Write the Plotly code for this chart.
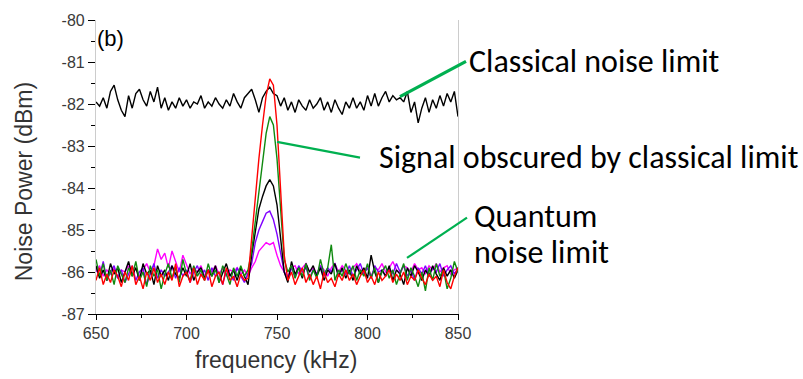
import numpy as np
import plotly.graph_objects as go

# ---------------- data ----------------
freq_start_khz = 650
freq_step_khz = 2

classical_limit = [
    -81.95, -82.05, -81.85, -82.10, -81.70, -81.55, -81.90, -82.15, -82.30, -81.80,
    -82.10, -81.75, -81.65, -81.90, -82.05, -81.70, -81.95, -81.60, -82.10, -81.85,
    -82.15, -81.95, -82.10, -81.85, -82.05, -81.90, -82.10, -81.95, -82.00, -81.80,
    -82.10, -81.95, -82.05, -81.85, -82.00, -82.10, -81.90, -82.05, -81.75, -81.95,
    -82.10, -81.85, -81.75, -81.65, -81.90, -82.20, -81.85, -81.70, -81.60, -81.75,
    -81.80, -82.05, -81.85, -82.15, -81.95, -82.20, -81.90, -82.05, -82.15, -81.90,
    -82.10, -82.00, -81.85, -82.15, -81.95, -82.20, -81.90, -82.10, -82.25, -81.95,
    -82.10, -81.85, -82.10, -81.95, -82.15, -81.80, -82.05, -81.75, -82.05, -81.85,
    -81.70, -81.95, -81.80, -81.90, -81.85, -81.95, -81.70, -82.20, -81.95, -82.45,
    -82.10, -81.85, -82.20, -81.90, -82.10, -81.80, -82.05, -81.75, -81.95, -81.70,
    -82.30,
]

red_trace = [
    -86.20, -85.90, -86.30, -86.05, -86.25, -85.95, -86.10, -86.35, -86.00, -86.20,
    -85.85, -86.30, -86.10, -86.40, -86.00, -86.20, -85.90, -86.25, -86.05, -86.30,
    -86.00, -86.20, -85.80, -86.35, -86.10, -86.00, -86.25, -85.90, -86.30, -86.05,
    -86.20, -85.95, -86.35, -86.10, -86.00, -86.30, -85.90, -86.20, -86.10, -86.35,
    -86.05, -86.20, -86.15, -85.20, -84.20, -83.30, -82.50, -81.80, -81.40, -81.55,
    -82.50, -84.00, -85.60, -86.20, -86.00, -86.30, -86.10, -85.90, -86.25, -86.05,
    -86.30, -86.10, -86.40, -86.00, -86.25, -86.15, -86.35, -86.05, -86.20, -85.95,
    -86.20, -86.05, -86.30, -86.10, -85.95, -86.25, -86.10, -86.30, -86.00, -86.20,
    -86.10, -85.95, -86.25, -86.05, -86.20, -86.00, -86.30, -86.10, -86.20, -85.95,
    -86.15, -86.30, -86.05, -86.20, -86.10, -86.35, -85.95, -86.25, -86.40, -86.10,
    -85.90,
]

green_trace = [
    -85.70, -86.10, -85.80, -86.20, -85.95, -86.30, -85.85, -86.05, -86.25, -85.90,
    -86.10, -85.75, -86.20, -86.00, -86.35, -85.85, -86.10, -85.95, -86.40, -86.05,
    -85.80, -86.15, -85.90, -86.25, -85.70, -86.05, -86.20, -85.85, -86.10, -85.95,
    -86.20, -85.80, -86.10, -85.95, -86.25, -85.85, -86.05, -86.30, -85.90, -86.10,
    -85.85, -86.10, -85.95, -85.50, -84.80, -84.00, -83.30, -82.70, -82.30, -82.50,
    -83.30, -84.60, -85.70, -86.00, -85.85, -86.15, -85.90, -86.10, -85.80, -86.20,
    -85.95, -86.15, -85.70, -86.05, -85.90, -85.35, -86.20, -85.95, -86.10, -85.80,
    -86.05, -85.85, -86.20, -85.95, -86.10, -85.80, -86.15, -85.90, -86.25, -86.00,
    -85.85, -86.15, -85.95, -86.30, -86.05, -85.80, -86.20, -85.90, -86.10, -86.35,
    -86.00, -86.45, -85.90, -86.20, -85.80, -86.10, -85.95, -86.40, -86.15, -85.75,
    -86.00,
]

black_trace = [
    -85.85, -86.15, -85.95, -86.20, -85.80, -86.05, -85.90, -86.25, -86.00, -85.75,
    -86.10, -85.90, -86.20, -85.80, -86.05, -85.95, -86.30, -85.85, -86.10, -85.95,
    -86.20, -85.85, -86.05, -86.15, -85.90, -86.10, -85.80, -86.20, -86.00, -85.90,
    -86.15, -85.95, -86.10, -85.85, -86.25, -86.00, -85.80, -86.10, -85.95, -86.20,
    -85.90, -86.10, -86.30, -85.60, -85.00, -84.50, -84.20, -83.95, -83.80, -83.95,
    -84.40, -85.20, -86.00, -86.25, -85.75, -86.05, -85.90, -86.15, -85.80, -86.00,
    -85.85, -86.10, -85.90, -86.20, -85.95, -86.05, -85.80, -86.10, -85.90, -86.15,
    -85.95, -86.20, -85.85, -86.05, -85.90, -86.15, -85.60, -86.00, -86.25, -85.95,
    -86.10, -85.85, -86.20, -85.95, -86.05, -86.30, -85.90, -86.10, -85.85, -86.00,
    -86.20, -85.95, -86.10, -85.85, -86.05, -86.20, -85.90, -86.10, -85.95, -86.15,
    -85.95,
]

purple_trace = [
    -85.90, -86.10, -85.75, -86.20, -86.00, -85.85, -86.15, -85.95, -86.25, -86.05,
    -85.85, -86.20, -86.00, -85.90, -86.30, -86.05, -85.80, -86.15, -85.95, -86.10,
    -86.00, -85.85, -86.15, -85.90, -86.10, -85.95, -86.25, -86.00, -85.85, -86.10,
    -85.95, -86.20, -85.90, -86.10, -86.00, -86.30, -85.95, -86.05, -86.20, -85.90,
    -86.10, -86.25, -86.00, -85.80, -85.30, -85.00, -84.80, -84.60, -84.55, -84.75,
    -85.10, -85.60, -86.00, -86.20, -85.90, -86.10, -85.85, -86.00, -85.90, -86.15,
    -85.95, -86.05, -85.85, -86.10, -85.90, -86.00, -85.80, -86.10, -85.95, -86.05,
    -85.85, -86.10, -85.95, -85.80, -86.05, -85.90, -86.15, -85.85, -86.00, -85.95,
    -86.10, -85.90, -86.05, -85.80, -86.00, -85.85, -86.10, -85.95, -86.20, -85.90,
    -86.05, -85.85, -86.10, -85.90, -86.00, -85.80, -86.10, -85.95, -85.85, -86.05,
    -85.90,
]

magenta_trace = [
    -86.00, -85.85, -86.10, -85.95, -86.05, -85.90, -86.15, -85.95, -86.00, -85.85,
    -86.05, -85.90, -86.10, -85.95, -85.80, -86.00, -85.85, -85.45, -85.70, -85.55,
    -85.90, -85.50, -85.75, -86.00, -85.60, -85.85, -86.05, -85.90, -86.00, -85.85,
    -86.10, -85.95, -86.00, -85.85, -86.05, -85.90, -86.10, -85.95, -86.00, -85.90,
    -86.05, -85.95, -86.10, -85.90, -85.75, -85.50, -85.40, -85.30, -85.35, -85.30,
    -85.60, -85.85, -86.00, -86.10, -85.90, -85.85, -86.05, -85.90, -85.80, -86.00,
    -85.90, -86.05, -85.85, -85.95, -86.10, -85.90, -85.80, -86.00, -85.85, -85.95,
    -86.05, -85.90, -85.80, -85.95, -86.00, -85.85, -86.10, -85.90, -85.95, -85.80,
    -86.00, -85.90, -85.75, -85.95, -86.05, -85.85, -85.90, -86.00, -85.80, -85.95,
    -85.90, -86.05, -85.85, -85.95, -85.80, -86.00, -85.90, -85.85, -86.05, -85.95,
    -85.90,
]

x_tick_values = [650, 700, 750, 800, 850]
x_tick_labels = ["650", "700", "750", "800", "850"]
y_tick_values = [-87, -86, -85, -84, -83, -82, -81, -80]
y_tick_labels = ["-87", "-86", "-85", "-84", "-83", "-82", "-81", "-80"]

freq = freq_start_khz + freq_step_khz * np.arange(len(classical_limit))

# ---------------- figure ----------------
W, H = 803, 379
L, R, T, B = 96, 345, 15, 65
PW, PH = W - L - R, H - T - B


def px(x):
    return (x - L) / PW


def py(y):
    return (H - B - y) / PH


fig = go.Figure()

series = [
    (classical_limit, "#000000"),
    (magenta_trace, "#ff00ff"),
    (purple_trace, "#8000ff"),
    (black_trace, "#000000"),
    (green_trace, "#108a10"),
    (red_trace, "#ff0000"),
]
for vals, col in series:
    fig.add_trace(go.Scatter(x=freq, y=vals, mode="lines",
                             line=dict(color=col, width=1.4),
                             showlegend=False, hoverinfo="skip"))

axis_font = dict(family="Liberation Sans, Arial, sans-serif", size=16, color="#3a3a3a")
label_font = dict(family="Carlito, Lato, sans-serif", size=32, color="#000000")

fig.update_layout(
    width=W, height=H,
    margin=dict(l=L, r=R, t=T, b=B, pad=0),
    paper_bgcolor="white", plot_bgcolor="white",
    xaxis=dict(range=[650, 850], tickvals=x_tick_values, ticktext=x_tick_labels,
               showgrid=False, zeroline=False, showline=True, linecolor="#000000",
               linewidth=1.2, ticks="outside", ticklen=5, tickwidth=1.2,
               tickcolor="#000000", tickfont=axis_font,
               minor=dict(dtick=25, tick0=650, ticks="outside", ticklen=3,
                          tickcolor="#000000", tickwidth=1)),
    yaxis=dict(range=[-87, -80], tickvals=y_tick_values, ticktext=y_tick_labels,
               showgrid=False, zeroline=False, showline=True, linecolor="#cccccc",
               linewidth=1.2, mirror=True, ticks="outside", ticklen=7, tickwidth=1.2,
               tickcolor="#000000", tickfont=axis_font,
               minor=dict(dtick=0.5, tick0=-87, ticks="outside", ticklen=4,
                          tickcolor="#000000", tickwidth=1)),
)

title_font = dict(family="Liberation Sans, Arial, sans-serif", size=23, color="#333333")
annotations = [
    dict(x=px(276), y=py(361), text="frequency (kHz)", font=title_font,
         xanchor="center", yanchor="middle"),
    dict(x=px(24), y=py(180), text="Noise Power (dBm)", font=title_font,
         textangle=-90, xanchor="center", yanchor="middle"),
    dict(x=px(95), y=py(34), text="(b)",
         font=dict(family="Liberation Sans, Arial, sans-serif", size=22, color="#000000"),
         xanchor="left", yanchor="middle"),
    dict(x=px(467), y=py(57), text="Classical noise limit", font=label_font,
         xanchor="left", yanchor="middle"),
    dict(x=px(377), y=py(155), text="Signal obscured by classical limit", font=label_font,
         xanchor="left", yanchor="middle"),
    dict(x=px(472), y=py(215), text="Quantum", font=label_font,
         xanchor="left", yanchor="middle"),
    dict(x=px(472), y=py(251), text="noise limit", font=label_font,
         xanchor="left", yanchor="middle"),
]
for a in annotations:
    a.update(xref="paper", yref="paper", showarrow=False)
fig.update_layout(annotations=annotations)

green = "#00b050"
for (x0, y0, x1, y1, w) in [(400, 93, 466, 57, 3.2), (277, 139, 360, 155, 2.2),
                            (407, 257, 467, 216, 2.2)]:
    fig.add_shape(type="line", xref="paper", yref="paper",
                  x0=px(x0), y0=py(y0), x1=px(x1), y1=py(y1),
                  line=dict(color=green, width=w))

fig.write_html("out.html", config={"displayModeBar": False},
               post_script="document.body.style.margin='0px';")
